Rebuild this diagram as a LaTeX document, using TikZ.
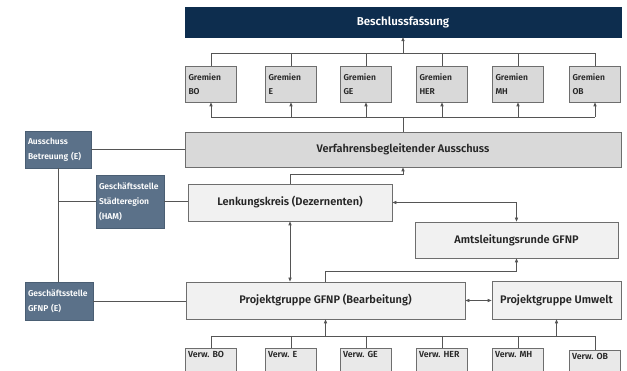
\documentclass[tikz,border=0pt]{standalone}
\usepackage{fontspec}
\setmainfont{Fira Sans}[BoldFont={Fira Sans SemiBold}]
\usetikzlibrary{arrows.meta}
\frenchspacing
\definecolor{navy}{HTML}{0D2D4E}
\definecolor{slate}{HTML}{5B7189}
\definecolor{slateb}{HTML}{4A5E73}
\definecolor{gfill}{HTML}{D9D9D9}
\definecolor{lfill}{HTML}{F1F1F1}
\definecolor{vfill}{HTML}{E9E9E9}
\definecolor{bord}{HTML}{6E6E6E}
\definecolor{linec}{HTML}{555555}
\tikzset{
  navybox/.style={fill=navy, draw=navy, text=white, font=\fontsize{11.5}{13}\selectfont\bfseries, inner sep=0pt},
  slatebox/.style={fill=slate, draw=slateb, line width=0.8pt, text=white, align=left, inner sep=3pt,
     font=\fontsize{8.5}{15}\selectfont\bfseries},
  grembox/.style={fill=gfill, draw=bord, line width=0.8pt, align=left, inner sep=3pt, text width=45pt,
     minimum width=51pt, minimum height=36pt, font=\fontsize{8.5}{14}\selectfont\bfseries, text=black!85},
  bigbox/.style={draw=bord, line width=0.8pt, inner sep=0pt, text=black!85, font=\fontsize{11}{13}\selectfont\bfseries},
  verwbox/.style={fill=vfill, draw=bord, line width=0.8pt, anchor=north, inner sep=2.5pt, text height=6.5pt, text depth=40pt,
     text width=46pt, align=left, font=\fontsize{8.8}{10}\selectfont\bfseries, text=black!85},
  conn/.style={draw=linec, line width=0.8pt},
  arr/.style={conn, -{Triangle[length=4pt,width=3.2pt]}},
  darr/.style={conn, {Triangle[length=4pt,width=3.2pt]}-{Triangle[length=4pt,width=3.2pt]}},
}
\begin{document}
\begin{tikzpicture}[x=1pt,y=-1pt]
\useasboundingbox (0,0) rectangle (627,371);
\clip (0,0) rectangle (627,371);
\fill[white] (0,0) rectangle (627,371);

% top
\node[navybox, minimum width=436pt, minimum height=30pt] (besch) at (403,22) {Beschlussfassung};
\node[grembox] (g1) at (211,84) {Gremien\\BO};
\node[grembox] (g2) at (291,84) {Gremien\\E};
\node[grembox] (g3) at (366,84) {Gremien\\GE};
\node[grembox] (g4) at (442,84) {Gremien\\HER};
\node[grembox] (g5) at (518,84) {Gremien\\MH};
\node[grembox] (g6) at (595,84) {Gremien\\OB};
\node[bigbox, fill=gfill, minimum width=436pt, minimum height=35pt] (verf) at (403,149.5) {Verfahrensbegleitender Ausschuss};

% left column
\node[slatebox, minimum width=66pt, minimum height=37pt, text width=60pt] (aus) at (58,149.5) {Ausschuss\\Betreuung (E)};
\node[slatebox, minimum width=68pt, minimum height=53pt, text width=62pt] (gsst) at (130,201.5) {Geschäftsstelle\\Städteregion\\(HAM)};
\node[slatebox, minimum width=68pt, minimum height=38pt, text width=62pt] (gsg) at (59,301) {Geschäftsstelle\\GFNP (E)};

% middle
\node[bigbox, fill=lfill, minimum width=204pt, minimum height=37pt] (lenk) at (290,202.5) {Lenkungskreis (Dezernenten)};
\node[bigbox, fill=lfill, minimum width=203pt, minimum height=36pt] (amts) at (516.5,240) {Amtsleitungsrunde GFNP};
\node[bigbox, fill=lfill, minimum width=279pt, minimum height=37pt] (proj) at (325.5,300.5) {Projektgruppe GFNP (Bearbeitung)};
\node[bigbox, fill=lfill, minimum width=129pt, minimum height=38pt] (umw) at (556.5,300) {Projektgruppe Umwelt};

% bottom
\node[verwbox] (v1) at (211,348) {Verw. BO};
\node[verwbox] (v2) at (291,348) {Verw. E};
\node[verwbox] (v3) at (366,348) {Verw. GE};
\node[verwbox] (v4) at (442,348) {Verw. HER};
\node[verwbox] (v5) at (518,348) {Verw. MH};
\node[verwbox] (v6) at (595,350) {Verw. OB};

% connectors top
\coordinate (tj) at (403,53);
\coordinate (bj) at (403,117);
\coordinate (vj) at (403,336);
\draw[conn] (g1.north) |- (g6.north |- tj) -- (g6.north);
\foreach \g in {g2,g3,g4,g5} \draw[conn] (\g.north) -- (\g.north |- tj);
\draw[arr] (tj) -- (besch.south);
\draw[conn] (verf.north) -- (bj);
\draw[conn] (g1.south |- bj) -- (g6.south |- bj);
\foreach \g in {g1,g2,g3,g4,g5,g6} \draw[arr] (\g.south |- bj) -- (\g.south);

% left column
\draw[conn] (aus.east) -- (aus.east -| verf.west);
\draw[conn] (aus.south) -- (aus.south |- gsg.north);
\draw[conn] (aus.south |- gsst.west) -- (gsst.west);
\draw[conn] (gsst.east) -- (gsst.east -| lenk.west);
\draw[conn] (gsg.east) -- (gsg.east -| proj.west);

% middle
\draw[arr] (lenk.north) -- ++(0,-9) -| (verf.south);
\draw[darr] (lenk.south) -- (lenk.south |- proj.north);
\draw[darr] (lenk.east) -| (amts.north);
\draw[arr] (proj.north) -- ++(0,-10) -| (amts.south);
\draw[darr] (proj.east) -- (proj.east -| umw.west);

% bottom
\draw[conn] (v1.north |- vj) -- (v6.north |- vj);
\foreach \v in {v1,v2,v3,v4,v5,v6} \draw[conn] (\v.north |- vj) -- (\v.north);
\draw[arr] (proj.south |- vj) -- (proj.south);
\draw[arr] (umw.south |- vj) -- (umw.south);
\end{tikzpicture}
\end{document}
